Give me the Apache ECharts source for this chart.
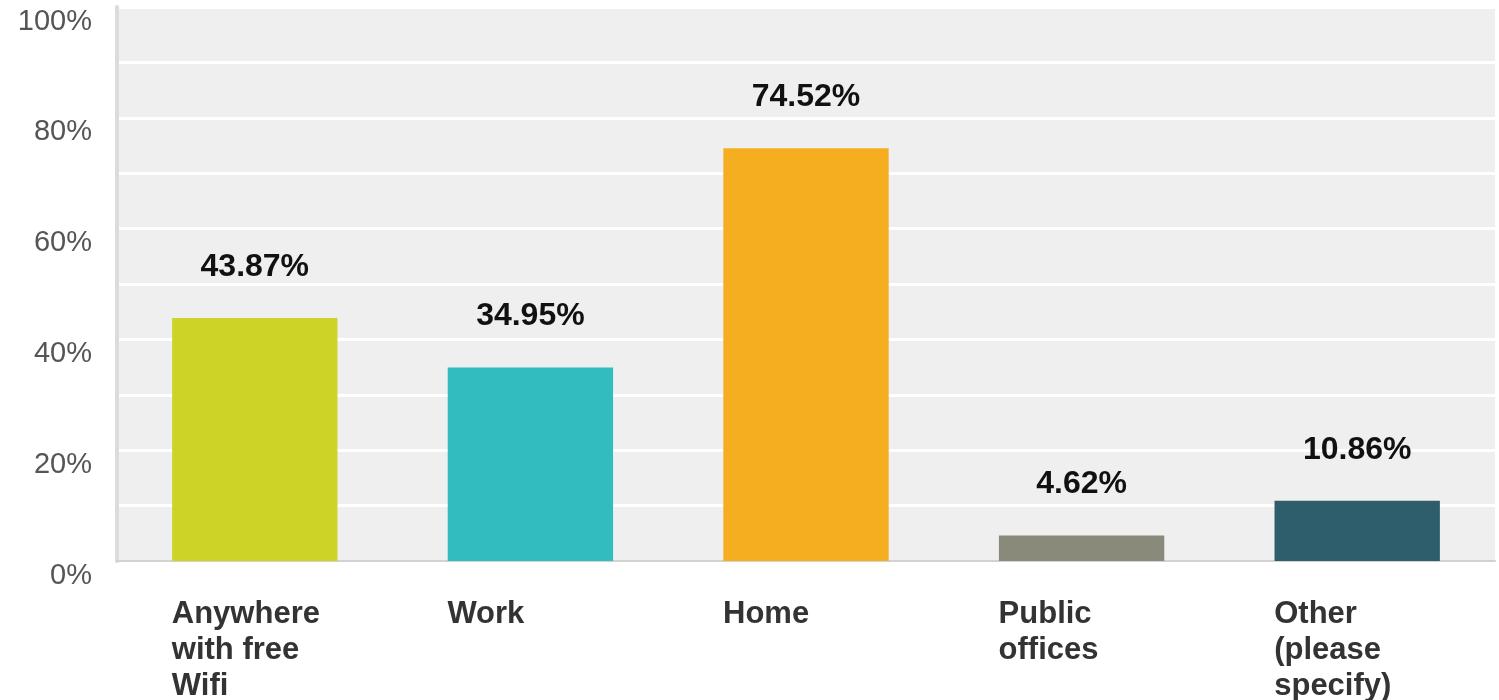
<!DOCTYPE html>
<html><head><meta charset="utf-8">
<script src="https://cdn.jsdelivr.net/npm/echarts@6/dist/echarts.min.js"></script>
<style>html,body{margin:0;padding:0;background:#fff}#c{width:1499px;height:700px}</style>
</head><body><div id="c"></div>
<script>
const categories = ['Anywhere\nwith free\nWifi', 'Work', 'Home', 'Public\noffices', 'Other\n(please\nspecify)'];
const values = [43.87, 34.95, 74.52, 4.62, 10.86];
const colors = ['#cdd327', '#33bcbf', '#f5ae1f', '#898a7a', '#2e5e6c'];
const yTicks = [0, 20, 40, 60, 80, 100];

const chart = echarts.init(document.getElementById('c'));
chart.setOption({
  animation: false,
  grid: { left: 117, right: 4, top: 7, bottom: 139, show: true, backgroundColor: '#efefef', borderWidth: 0, outerBoundsMode: 'none', containLabel: false },
  xAxis: {
    type: 'category', data: categories,
    axisLine: { show: true, lineStyle: { color: '#d2d2d2', width: 2 } },
    axisTick: { show: false },
    axisLabel: {
      margin: 35,
      formatter: v => v.split('\n').map(l => '{a|' + l + '}').join('\n'),
      rich: { a: { width: 166, align: 'left', fontFamily: 'Liberation Sans, Arial, sans-serif', fontWeight: 'bold', fontSize: 31, lineHeight: 36, color: '#333' } }
    }
  },
  yAxis: {
    type: 'value', min: 0, max: 100, interval: 10,
    axisLine: { show: true, lineStyle: { color: '#dcdcdc', width: 4 } },
    axisTick: { show: false },
    splitLine: { show: true, lineStyle: { color: '#ffffff', width: 3 } },
    axisLabel: {
      margin: 25, verticalAlign: 'top', color: '#555', fontSize: 29,
      fontFamily: 'Liberation Sans, Arial, sans-serif',
      formatter: v => yTicks.includes(v) ? v + '%' : ''
    }
  },
  series: [{
    type: 'bar', barWidth: '60%',
    data: values.map((v, i) => ({ value: v, itemStyle: { color: colors[i] } })),
    label: {
      show: true, position: 'top', distance: 35,
      formatter: p => p.value.toFixed(2) + '%',
      fontFamily: 'Liberation Sans, Arial, sans-serif', fontWeight: 'bold', fontSize: 32, color: '#111'
    }
  }]
});
</script></body></html>
